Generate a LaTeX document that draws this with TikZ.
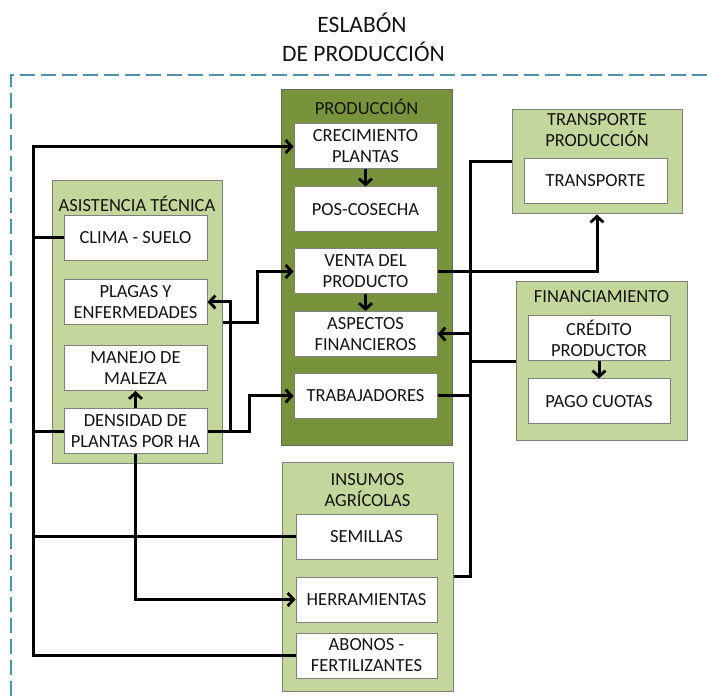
\documentclass[tikz,border=0pt]{standalone}
\usepackage{fontspec}
\setmainfont{Carlito}
\usetikzlibrary{arrows.meta,calc}
\definecolor{darkgreen}{HTML}{77933C}
\definecolor{lightgreen}{HTML}{C3D69B}
\definecolor{frameblue}{HTML}{4A94A8}
\definecolor{boxline}{HTML}{7F7F7F}
\definecolor{txt}{HTML}{141414}
\begin{document}
\begin{tikzpicture}[x=1pt,y=-1pt,
  every node/.style={text=txt,font=\fontsize{18.5}{21}\selectfont,align=center,inner sep=0pt},
  group/.style={draw=boxline,line width=1pt,fill=lightgreen},
  maingroup/.style={draw=boxline!80!black,line width=1pt,fill=darkgreen},
  item/.style={draw=boxline,line width=1pt,fill=white,minimum width=143pt,minimum height=45pt},
  heading/.style={},
  link/.style={line width=3pt,line join=miter,draw=black},
  arr/.style={link,-{Straight Barb[length=6pt,width=13pt,line width=2.8pt]}}]
\useasboundingbox (0,0) rectangle (707,700);

% title and dashed frame of the stage
\node (t1) at (362,23) {\fontsize{23.5}{28}\selectfont ESLABÓN};
\node (t2) at (363.5,52) {\fontsize{23.5}{28}\selectfont DE PRODUCCIÓN};
\draw[frameblue,line width=2pt,dash pattern=on 15pt off 6pt] (707,75) -- (11,75) -- (11,700);

% group boxes
\node[maingroup,minimum width=171pt,minimum height=356pt] (prod) at (366.5,268) {};
\node[group,minimum width=170pt,minimum height=282pt] (asist) at (137,322) {};
\node[group,minimum width=170pt,minimum height=104pt] (transp) at (597,162) {};
\node[group,minimum width=171pt,minimum height=159pt] (fin) at (601.5,361.5) {};
\node[group,minimum width=171pt,minimum height=229pt] (ins) at (367.5,576.5) {};

% group headings
\node[heading] (hprod) at (366.5,107) {PRODUCCIÓN};
\node[heading] (hasist) at (137,204) {ASISTENCIA TÉCNICA};
\node[heading] (htransp) at (597,130.5) {TRANSPORTE\\PRODUCCIÓN};
\node[heading] (hfin) at (601.5,296.5) {FINANCIAMIENTO};
\node[heading] (hins) at (367.5,490.5) {INSUMOS\\AGRÍCOLAS};

% production items
\node[item] (crec) at (365.5,146.5) {CRECIMIENTO\\PLANTAS};
\node[item] (pos) at (365.5,209.5) {POS-COSECHA};
\node[item] (venta) at (365.5,271.5) {VENTA DEL\\PRODUCTO};
\node[item] (asp) at (365.5,334) {ASPECTOS\\FINANCIEROS};
\node[item] (trab) at (365.5,396) {TRABAJADORES};

% technical assistance items
\node[item] (clima) at (135.5,238) {CLIMA - SUELO};
\node[item] (plagas) at (135.5,302) {PLAGAS Y\\ENFERMEDADES};
\node[item] (manejo) at (135.5,368) {MANEJO DE\\MALEZA};
\node[item] (dens) at (135.5,431.5) {DENSIDAD DE\\PLANTAS POR HA};

% transport, financing and inputs items
\node[item] (transporte) at (595.5,181) {TRANSPORTE};
\node[item,minimum width=142pt] (cred) at (599,338.5) {CRÉDITO\\PRODUCTOR};
\node[item,minimum width=142pt] (pago) at (599,401.5) {PAGO CUOTAS};
\node[item,minimum width=141pt] (sem) at (366.5,536.5) {SEMILLAS};
\node[item,minimum width=141pt] (herr) at (366.5,599.5) {HERRAMIENTAS};
\node[item,minimum width=141pt] (abon) at (366.5,655.5) {ABONOS -\\FERTILIZANTES};

% left trunk feeding plant growth
\coordinate (trunk) at (33,146.5);
\draw[arr] (abon.west) -| (trunk) -- (crec.west);
\draw[link] (clima.west) -- (clima.west -| trunk);
\draw[link] (dens.west) -- (dens.west -| trunk);
\draw[link] (sem.west) -- (sem.west -| trunk);

% links leaving plant density
\draw[arr] (dens.north) -- (manejo.south);
\draw[arr] (dens.south) |- (herr.west);
\draw[arr] (dens.east) -| ($(plagas.east)+(23,0)$) -- (plagas.east);
\draw[arr] (dens.east) -| ($(trab.west)+(-44,0)$) -- (trab.west);

% pests to sales
\coordinate (pstart) at ($(plagas.south east)+(15,-2)$);
\draw[arr] (pstart) -| ($(venta.west)+(-36,0)$) -- (venta.west);

% inside production
\draw[arr] (crec.south) -- (pos.north);
\draw[arr] (venta.south) -- (asp.north);

% sales to transport
\draw[arr] (venta.east) -| (transp.south);

% right bus between production, transport, financing and inputs
\coordinate (bus) at (470,162);
\draw[link] (ins.east) -| (bus) -- (transp.west);
\draw[arr] (asp.east -| bus) -- (asp.east);
\draw[link] (fin.west) -- (fin.west -| bus);
\draw[link] (trab.east) -- (trab.east -| bus);

% financing
\draw[arr] (cred.south) -- (pago.north);
\end{tikzpicture}
\end{document}
